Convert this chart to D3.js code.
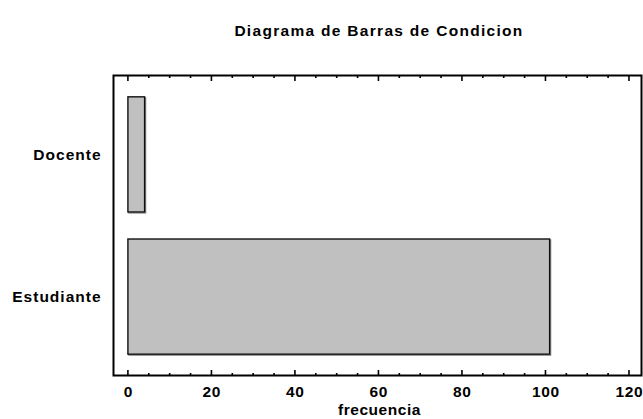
<!DOCTYPE html>
<html><head><meta charset="utf-8">
<script src="https://cdn.jsdelivr.net/npm/d3@7"></script>
<style>body{margin:0;background:#fff}svg{display:block}text{font-family:"Liberation Sans",Arial,sans-serif;font-weight:bold;fill:#000}</style>
</head><body><svg id="c" width="643" height="419"></svg>
<script>
const categories = ["Docente", "Estudiante"];
const values = [4, 101];
const xTicks = [0, 20, 40, 60, 80, 100, 120];
const title = "Diagrama de Barras de Condicion";
const xTitle = "frecuencia";

const svg = d3.select("#c");
const L = 113.5, R = 641.5, T = 75.5, B = 375.5;
const x = d3.scaleLinear().domain([-3.45, 123]).range([L, R]);
const y = d3.scaleBand().domain(categories).range([T, B]).paddingInner(0.19).paddingOuter(0.15);

// bars shadow
svg.append("g").selectAll("rect").data(categories).join("rect")
  .attr("x", d => x(0) + 1).attr("y", d => y(d) + 1)
  .attr("width", (d, i) => x(values[i]) - x(0)).attr("height", y.bandwidth())
  .attr("fill", "none").attr("stroke", "#888").attr("stroke-width", 1.3);
svg.append("g").selectAll("rect").data(categories).join("rect")
  .attr("x", d => x(0)).attr("y", d => y(d))
  .attr("width", (d, i) => x(values[i]) - x(0)).attr("height", y.bandwidth())
  .attr("fill", "#c0c0c0").attr("stroke", "#111").attr("stroke-width", 1.4);

// frame
svg.append("rect").attr("x", L).attr("y", T).attr("width", R - L).attr("height", B - T)
  .attr("fill", "none").attr("stroke", "#000").attr("stroke-width", 2);

// ticks
const minor = d3.range(0, 121, 5).filter(v => v % 20 !== 0);
const tg = svg.append("g").attr("stroke", "#000").attr("stroke-width", 1.6);
xTicks.forEach(v => {
  tg.append("line").attr("x1", x(v)).attr("x2", x(v)).attr("y1", B).attr("y2", B - 5.5);
  tg.append("line").attr("x1", x(v)).attr("x2", x(v)).attr("y1", T).attr("y2", T + 5.5);
});
minor.forEach(v => {
  tg.append("line").attr("x1", x(v)).attr("x2", x(v)).attr("y1", B).attr("y2", B - 2.5);
  tg.append("line").attr("x1", x(v)).attr("x2", x(v)).attr("y1", T).attr("y2", T + 2.5);
});

// tick labels
svg.append("g").selectAll("text").data(xTicks).join("text")
  .attr("x", d => x(d) + 0.4).attr("y", 397).attr("text-anchor", "middle")
  .attr("font-size", 15.5).attr("letter-spacing", 0.7).text(d => d);

// category labels
svg.append("g").selectAll("text").data(categories).join("text")
  .attr("x", 101.5).attr("y", d => y(d) + y.bandwidth() / 2 + 5.5)
  .attr("text-anchor", "end").attr("font-size", 15.5).attr("letter-spacing", 1.0).text(d => d);

svg.append("text").attr("x", (L + R) / 2 + 2).attr("y", 415).attr("text-anchor", "middle")
  .attr("font-size", 15.5).attr("letter-spacing", 0.55).text(xTitle);

svg.append("text").attr("x", 379).attr("y", 36).attr("text-anchor", "middle")
  .attr("font-size", 15.5).attr("letter-spacing", 1.3).text(title);
</script></body></html>
